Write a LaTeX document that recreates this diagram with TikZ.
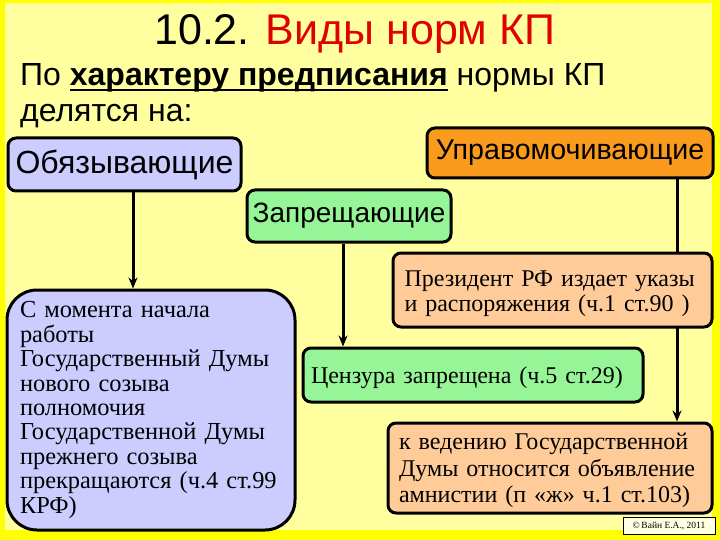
\documentclass[tikz,border=0pt]{standalone}
\usepackage{fontspec}
\setmainfont{Liberation Serif}
\newfontfamily\arialf{Liberation Sans}
\usetikzlibrary{arrows.meta}
\newcommand{\myuline}[1]{\setbox0\hbox{#1}\rlap{\rule[-5pt]{\wd0}{2.4pt}}\box0\relax}
\newcommand{\lowered}[2]{\raisebox{-#1}[\height][\depth]{\begin{tabular}{@{}l@{}}#2\end{tabular}}}
\definecolor{bgin}{RGB}{255,255,160}
\definecolor{bgout}{RGB}{255,255,0}
\definecolor{boxpurple}{RGB}{204,204,255}
\definecolor{boxgreen}{RGB}{150,245,150}
\definecolor{boxorange}{RGB}{250,155,30}
\definecolor{boxpeach}{RGB}{255,204,153}
\definecolor{titlered}{RGB}{225,0,0}
\pgfdeclarelayer{front}
\pgfsetlayers{main,front}
\tikzset{
  box/.style={draw=black, line width=3pt, rounded corners=8pt, inner sep=0pt},
  sansbox/.style={box, font=\arialf\fontsize{28}{30}\selectfont, align=center},
  serifbox/.style={box, font=\fontsize{24}{25}\selectfont, align=left},
  arr/.style={line width=3pt, -{Stealth[length=11pt,width=9pt]}},
}
\begin{document}
\begin{tikzpicture}[x=1pt,y=-1pt]
\fill[bgout] (0,0) rectangle (720,540);
\fill[bgin] (5,3) rectangle (712,530);
\useasboundingbox (0,0) rectangle (720,540);

\node[anchor=base west, inner sep=0pt, font=\arialf\fontsize{43}{48}\selectfont] (title) at (154,45) {10.2. \textcolor{titlered}{Виды норм КП}};
\node[anchor=base west, inner sep=0pt, font=\arialf\fontsize{32}{34}\selectfont] (line2) at (20,86) {По \myuline{\textbf{характеру предписания}} нормы КП};
\node[anchor=base west, inner sep=0pt, font=\arialf\fontsize{32}{34}\selectfont] (line3) at (20,122) {делятся на:};

\begin{pgfonlayer}{front}
\node[sansbox, fill=boxpurple, minimum width=233pt, minimum height=53pt, font=\arialf\fontsize{32}{34}\selectfont] (obz) at (124.5,164.5) {Обязывающие};
\node[sansbox, fill=boxgreen, minimum width=204pt, minimum height=52pt] (zap) at (349,216) {Запрещающие};
\node[sansbox, fill=boxorange, minimum width=286pt, minimum height=50pt, font=\arialf\fontsize{28.6}{30}\selectfont] (upr) at (570,153) {Управомочивающие};
\node[serifbox, fill=boxpeach, minimum width=319pt, minimum height=74pt, text width=296pt] (pres) at (552.5,290) {\lowered{3.5pt}{Президент РФ издает указы\\и распоряжения (ч.1 ст.90 )}};
\node[serifbox, fill=boxpurple, rounded corners=30pt, minimum width=288pt, minimum height=240pt, text width=262pt, font=\fontsize{24.4}{24.4}\selectfont] (big) at (151,410) {\lowered{0.5pt}{С момента начала\\работы\\Государственный Думы\\нового созыва\\полномочия\\Государственной Думы\\прежнего созыва\\прекращаются (ч.4 ст.99\\КРФ)}};
\node[serifbox, fill=boxgreen, minimum width=340pt, minimum height=54pt, text width=324pt] (cens) at (473,375) {\lowered{3pt}{Цензура запрещена (ч.5 ст.29)}};
\node[serifbox, fill=boxpeach, minimum width=324pt, minimum height=90pt, text width=302pt, font=\fontsize{24}{26.5}\selectfont] (amn) at (550,468) {\lowered{3pt}{к ведению Государственной\\Думы относится объявление\\амнистии (п «ж» ч.1 ст.103)}};
\node[draw=black, line width=0.6pt, fill=white!70!bgin, minimum width=92pt, minimum height=17pt, inner sep=0pt, font=\fontsize{9.5}{10}\selectfont] (copy) at (669,525.5) {©\,Вайн Е.А., 2011};
\end{pgfonlayer}

\coordinate (x1) at (133,0);
\coordinate (x2) at (343,0);
\coordinate (x3) at (677,0);
\draw[arr] (obz.south -| x1) -- (big.north -| x1);
\draw[arr] (zap.south -| x2) -- (cens.north -| x2);
\draw[arr] (upr.south -| x3) -- (amn.north -| x3);
\end{tikzpicture}
\end{document}
